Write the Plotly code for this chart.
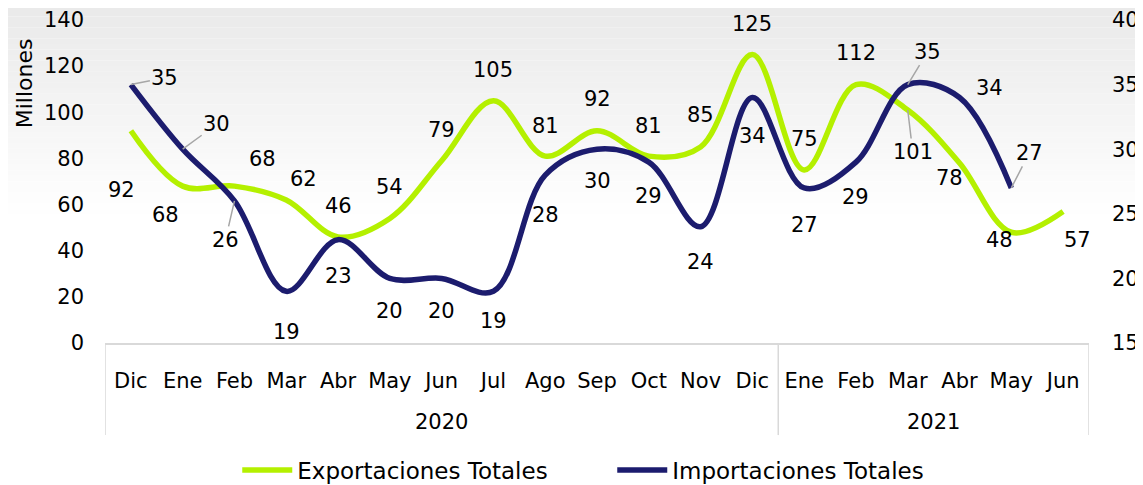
"""Exportaciones e importaciones totales (Millones)"""
import plotly.graph_objects as go

# data
meses = ["Dic", "Ene", "Feb", "Mar", "Abr", "May", "Jun", "Jul", "Ago", "Sep", "Oct", "Nov", "Dic",
         "Ene", "Feb", "Mar", "Abr", "May", "Jun"]
anios = ["2020", "2021"]
anio_inicio = [0, 13]
anio_fin = [12, 18]
exportaciones = [92, 68, 68, 62, 46, 54, 79, 105, 81, 92, 81, 85, 125, 75, 112, 101, 78, 48, 57]
importaciones = [35, 30, 26, 19, 23, 20, 20, 19, 28, 30, 29, 24, 34, 27, 29, 35, 34, 27]

# label placement (pixels, dy positive = down) and leader lines
exp_off = [(-9, 59), (-17, 29), (28, -27), (17, -21), (0, -31), (0, -31), (0, -31), (0, -31),
           (0, -30), (0, -32), (0, -30), (0, -32), (0, -31), (0, -31), (0, -32), (5, 42),
           (-10, 15), (-12, 8), (14, 29)]
exp_leader = [15]
imp_off = [(34, -7), (34, -25), (-9, 39), (0, 41), (0, 36), (0, 33), (0, 33), (0, 30), (0, 40),
           (0, 32), (0, 34), (0, 35), (0, 38), (0, 37), (0, 35), (20, -33), (30, -10), (18, -35)]
imp_leader = [0, 1, 2, 15, 17]

VERDE = "#b4f000"
AZUL = "#1c1c6e"
FONT = "DejaVu Sans"
GRIS = "#d9d9d9"
FS = 21

fig = go.Figure()

# background gradient (gray at the top fading to white)
n_bandas = 40
for k in range(n_bandas):
    g = int(round(233 + (255 - 233) * k / (n_bandas - 1)))
    y1 = 1.062 - k * 0.017
    fig.add_shape(type="rect", xref="paper", yref="paper", x0=-0.11, x1=1.06,
                  y0=y1 - 0.0175, y1=y1, fillcolor=f"rgb({g},{g},{g})",
                  line_width=0, layer="below")

x = list(range(len(meses)))
fig.add_trace(go.Scatter(x=x, y=exportaciones, mode="lines", name="Exportaciones Totales",
                         line=dict(color=VERDE, width=5.5, shape="spline", smoothing=1.0)))
fig.add_trace(go.Scatter(x=x[:len(importaciones)], y=importaciones, mode="lines",
                         name="Importaciones Totales", yaxis="y2",
                         line=dict(color=AZUL, width=5.5, shape="spline", smoothing=1.0)))

# data labels
def etiquetas(valores, offs, leaders, yref):
    for i, v in enumerate(valores):
        dx, dy = offs[i]
        if i in leaders:
            fig.add_annotation(x=i, y=v, xref="x", yref=yref, text=str(v), showarrow=True,
                               ax=dx, ay=dy, arrowhead=0, arrowwidth=1.5, arrowcolor="#a6a6a6",
                               standoff=0, font=dict(size=FS, color="black", family=FONT))
        else:
            fig.add_annotation(x=i, y=v, xref="x", yref=yref, text=str(v), showarrow=False,
                               xshift=dx, yshift=-dy,
                               font=dict(size=FS, color="black", family=FONT))

etiquetas(exportaciones, exp_off, exp_leader, "y")
etiquetas(importaciones, imp_off, imp_leader, "y2")

# year groups: labels and dividers
for a, i0, i1 in zip(anios, anio_inicio, anio_fin):
    fig.add_annotation(x=(i0 + i1) / 2, y=-0.245, xref="x", yref="paper", text=a,
                       xanchor="center", yanchor="middle", showarrow=False,
                       font=dict(size=FS, color="black", family=FONT))
for xd in [-0.5] + [f + 0.5 for f in anio_fin]:
    fig.add_shape(type="line", xref="x", yref="paper", x0=xd, x1=xd, y0=0, y1=-0.285,
                  line=dict(color=GRIS, width=1.5))

fig.add_annotation(x=-0.081, y=0.805, xref="paper", yref="paper", text="Millones",
                   textangle=-90, xanchor="center", yanchor="middle", showarrow=False,
                   font=dict(size=22, color="black", family=FONT))

# page body has an 8px margin, so the figure is a bit smaller than the window
fig.update_layout(
    width=1135, height=477,
    margin=dict(l=97, r=54, t=12, b=142, autoexpand=False),
    paper_bgcolor="white", plot_bgcolor="rgba(0,0,0,0)",
    font=dict(family=FONT, size=FS, color="black"),
    showlegend=True,
    legend=dict(orientation="h", x=0.5155, xanchor="center", y=-0.393, yanchor="middle",
                font=dict(size=23), itemwidth=50, entrywidth=310,
                bgcolor="rgba(0,0,0,0)"),
    xaxis=dict(range=[-0.5, len(meses) - 0.5], tickvals=x, ticktext=meses, showgrid=False,
               zeroline=False, showline=True, linecolor=GRIS, linewidth=1.5, ticks="",
               ticklabelstandoff=18, tickfont=dict(size=FS), automargin=False),
    yaxis=dict(range=[0, 140], dtick=20, showgrid=False, zeroline=False, ticks="",
               ticklabelstandoff=20, tickfont=dict(size=FS), automargin=False),
    yaxis2=dict(range=[15, 40], dtick=5, overlaying="y", side="right", showgrid=False,
                zeroline=False, ticks="", ticklabelstandoff=22, tickfont=dict(size=FS),
                automargin=False),
)

fig.write_html("out.html")
